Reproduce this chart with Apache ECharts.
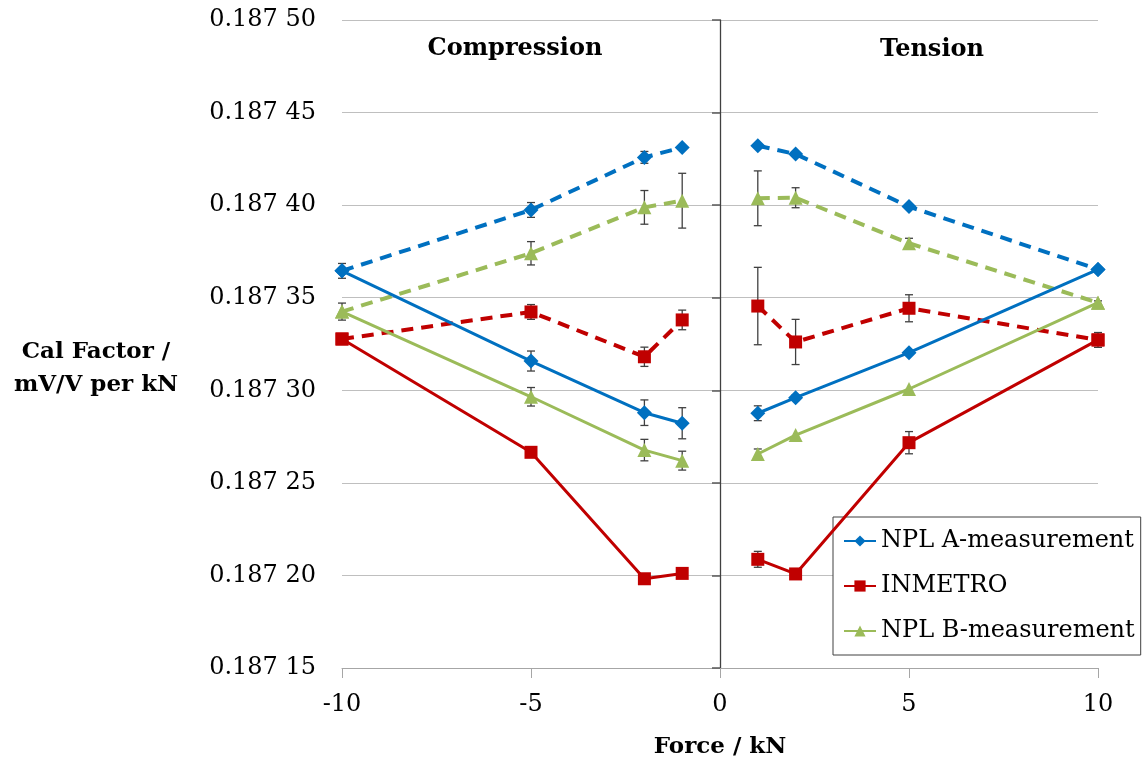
<!DOCTYPE html>
<html>
<head>
<meta charset="utf-8">
<script src="https://cdn.jsdelivr.net/npm/echarts@6/dist/echarts.min.js"></script>
<style>
  html, body { margin: 0; padding: 0; background: #fff; }
  #chart { width: 1144px; height: 760px; }
</style>
</head>
<body>
<div id="chart"></div>
<script>
// force points (kN) - compression side then tension side
const force = [-10, -5, -2, -1, 1, 2, 5, 10]

// cal factor values, mV/V per kN
const nplASolid = [0.1873645, 0.1873158, 0.1872879, 0.1872822, 0.1872876, 0.1872960, 0.1873203, 0.1873653]
const nplADashed = [0.1873645, 0.1873974, 0.1874258, 0.1874312, 0.1874321, 0.1874276, 0.1873992, 0.1873653]
const inmetroSolid = [0.1873277, 0.1872665, 0.1871982, 0.1872011, 0.1872087, 0.1872008, 0.1872717, 0.1873272]
const inmetroDashed = [0.1873277, 0.1873423, 0.1873181, 0.1873380, 0.1873455, 0.1873261, 0.1873443, 0.1873272]
const nplBSolid = [0.1873425, 0.1872965, 0.1872677, 0.1872620, 0.1872656, 0.1872758, 0.1873007, 0.1873473]
const nplBDashed = [0.1873425, 0.1873740, 0.1873988, 0.1874024, 0.1874037, 0.1874040, 0.1873794, 0.1873473]

// error bar half widths, in units of 1e-5
const nplASolidErr = [0.40, 0.54, 0.69, 0.84, 0.40, 0.15, 0, 0]
const nplADashedErr = [0, 0.40, 0.32, 0.05, 0.05, 0.12, 0.08, 0]
const inmetroSolidErr = [0, 0, 0, 0, 0.43, 0, 0.60, 0.40]
const inmetroDashedErr = [0, 0.40, 0.52, 0.53, 2.09, 1.22, 0.73, 0]
const nplBSolidErr = [0.46, 0.50, 0.58, 0.51, 0.27, 0, 0, 0]
const nplBDashedErr = [0, 0.63, 0.91, 1.48, 1.48, 0.54, 0.27, 0.10]

const yTickLabels = ['0.187 15', '0.187 20', '0.187 25', '0.187 30', '0.187 35', '0.187 40', '0.187 45', '0.187 50']
const yMin = 0.18715, yMax = 0.18750, yStep = 0.00005

const FONT = 'DejaVu Serif'
const BLUE = '#0070C0', RED = '#C00000', GREEN = '#9BBB59'

// break the line at zero force (compression / tension are separate runs)
const toLine = vals => {
  const out = []
  force.forEach((f, i) => {
    if (f === 1) out.push([0, '-'])
    out.push([f, vals[i]])
  })
  return out
}

const toErr = (vals, errs) => force
  .map((f, i) => [f, vals[i] - errs[i] * 1e-5, vals[i] + errs[i] * 1e-5, errs[i]])
  .filter(d => d[3] > 0)

const lineSeries = (name, vals, color, symbol, size, dashed) => ({
  name: name,
  type: 'line',
  data: toLine(vals),
  yAxisIndex: 0,
  symbol: symbol,
  symbolSize: size,
  showSymbol: true,
  connectNulls: false,
  z: dashed ? 3 : 4,
  itemStyle: { color: color },
  lineStyle: dashed
    ? { color: color, width: 4, type: [12, 8], cap: 'butt' }
    : { color: color, width: 3 },
  emphasis: { disabled: true }
})

const errSeries = (vals, errs) => ({
  type: 'custom',
  yAxisIndex: 0,
  z: 2,
  silent: true,
  data: toErr(vals, errs),
  encode: { x: 0, y: [1, 2] },
  renderItem: (params, api) => {
    const x = api.value(0)
    const lo = api.coord([x, api.value(1)])
    const hi = api.coord([x, api.value(2)])
    const w = 4
    const style = { stroke: '#404040', lineWidth: 1.3 }
    return {
      type: 'group',
      children: [
        { type: 'line', shape: { x1: lo[0], y1: lo[1], x2: hi[0], y2: hi[1] }, style: style },
        { type: 'line', shape: { x1: lo[0] - w, y1: lo[1], x2: lo[0] + w, y2: lo[1] }, style: style },
        { type: 'line', shape: { x1: hi[0] - w, y1: hi[1], x2: hi[0] + w, y2: hi[1] }, style: style }
      ]
    }
  }
})

const chart = echarts.init(document.getElementById('chart'))

const option = {
  backgroundColor: '#fff',
  animation: false,
  textStyle: { fontFamily: FONT },
  grid: { left: 342, right: 46, top: 20, bottom: 92, outerBoundsMode: 'none' },
  legend: {
    data: ['NPL A-measurement', 'INMETRO', 'NPL B-measurement'],
    orient: 'vertical',
    left: 833,
    top: 517,
    padding: [12, 6, 12, 10],
    itemGap: 21,
    itemWidth: 32,
    itemHeight: 14,
    backgroundColor: '#fff',
    borderColor: '#404040',
    borderWidth: 1,
    borderRadius: 0,
    textStyle: { fontFamily: FONT, fontSize: 24, color: '#000' }
  },
  xAxis: {
    type: 'value',
    min: -10,
    max: 10,
    interval: 5,
    name: 'Force / kN',
    nameLocation: 'middle',
    nameGap: 68,
    nameTextStyle: { fontFamily: FONT, fontSize: 23, fontWeight: 'bold', color: '#000' },
    axisLine: { onZero: false, lineStyle: { color: '#A6A6A6', width: 1 } },
    axisTick: { show: true, length: 10, lineStyle: { color: '#A6A6A6' } },
    axisLabel: { fontFamily: FONT, fontSize: 24, color: '#000', margin: 25 },
    splitLine: { show: false }
  },
  yAxis: [
    {
      type: 'value',
      min: yMin,
      max: yMax,
      interval: yStep,
      position: 'left',
      axisLine: { show: false, onZero: false },
      axisTick: { show: false },
      axisLabel: {
        fontFamily: FONT,
        fontSize: 24,
        color: '#000',
        margin: 26,
        formatter: v => yTickLabels[Math.round((v - yMin) / yStep)]
      },
      splitLine: { show: true, lineStyle: { color: '#BFBFBF', width: 1 } }
    },
    {
      // the axis line drawn through force = 0
      type: 'value',
      min: yMin,
      max: yMax,
      interval: yStep,
      position: 'left',
      axisLine: { show: true, onZero: true, lineStyle: { color: '#404040', width: 1.3 } },
      axisTick: { show: true, length: 8, lineStyle: { color: '#595959', width: 1.5 } },
      axisLabel: { show: false },
      splitLine: { show: false }
    }
  ],
  graphic: [
    {
      type: 'text',
      style: {
        text: 'Compression', x: 515, y: 49, align: 'center', verticalAlign: 'middle',
        font: 'bold 24px "DejaVu Serif"', fill: '#000'
      }
    },
    {
      type: 'text',
      style: {
        text: 'Tension', x: 932, y: 50, align: 'center', verticalAlign: 'middle',
        font: 'bold 24px "DejaVu Serif"', fill: '#000'
      }
    },
    {
      type: 'text',
      style: {
        text: 'Cal Factor /\nmV/V per kN', x: 96, y: 369, align: 'center', verticalAlign: 'middle',
        font: 'bold 23px "DejaVu Serif"', lineHeight: 33, fill: '#000'
      }
    }
  ],
  series: [
    lineSeries('NPL A-measurement', nplASolid, BLUE, 'diamond', 15, false),
    lineSeries('INMETRO', inmetroSolid, RED, 'rect', 13, false),
    lineSeries('NPL B-measurement', nplBSolid, GREEN, 'triangle', 14, false),
    lineSeries('NPL A-measurement', nplADashed, BLUE, 'diamond', 15, true),
    lineSeries('INMETRO', inmetroDashed, RED, 'rect', 13, true),
    lineSeries('NPL B-measurement', nplBDashed, GREEN, 'triangle', 14, true),
    errSeries(nplASolid, nplASolidErr),
    errSeries(nplADashed, nplADashedErr),
    errSeries(inmetroSolid, inmetroSolidErr),
    errSeries(inmetroDashed, inmetroDashedErr),
    errSeries(nplBSolid, nplBSolidErr),
    errSeries(nplBDashed, nplBDashedErr)
  ]
}

chart.setOption(option)
</script>
</body>
</html>
